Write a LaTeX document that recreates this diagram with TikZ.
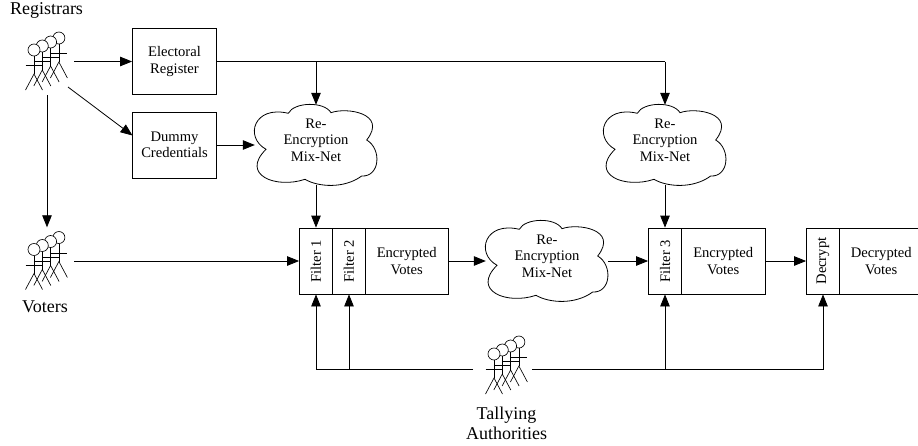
\documentclass[tikz,border=0pt]{standalone}
\usepackage{fontspec}
\setmainfont{Liberation Serif}
\usetikzlibrary{arrows.meta}
\tikzset{
	flow/.style={line width=0.8pt,draw=black,-{Triangle[length=12pt,width=9.5pt,fill=black]}},
	link/.style={line width=0.8pt,draw=black},
	boxpart/.style={draw=black,line width=0.8pt,minimum height=66pt,inner sep=0pt,font=\fontsize{14.6}{16.5}\selectfont,align=center},
	filterpart/.style={boxpart,minimum width=33pt},
	groupname/.style={font=\fontsize{18}{20}\selectfont,align=center,inner sep=0pt},
	anchorbox/.style={minimum width=54pt,minimum height=67pt,inner sep=0pt},
	cloudbox/.style={minimum width=122pt,minimum height=80pt,inner sep=0pt},
	cloudtext/.style={font=\fontsize{14.6}{16.5}\selectfont,align=center,inner sep=0pt}
}
% four stick figures, front one last
\newcommand{\stickgroup}[3]{
	\node[anchorbox] (#1) at (#2,#3) {};
	\foreach \i in {3,2,1,0} {
		\begin{scope}[shift={(#2-13+8.3*\i,#3+4-4*\i)},line width=0.65pt]
			\draw[fill=white] (0,-15.5) circle (6);
			\draw (0,-9.5)--(0,8.5);
			\draw (-8.5,0)--(8.5,0);
			\draw (-8.5,24.5)--(0,8.5)--(8.5,24.5);
		\end{scope}
	}
}
\newcommand{\mixnet}[3]{
	\node[cloudbox] (#1) at (#2,#3) {};
	\node[cloudtext] (#1text) at (#2,#3-5) {Re-\\Encryption\\Mix-Net};
	\draw[link,shift={(#2,#3)}] (-27.7,-31.7)
		.. controls (-22,-43) and (8,-44) .. (15,-32.3)
		.. controls (30,-38) and (72,-32) .. (50.7,-5)
		.. controls (66,4) and (64,32) .. (45.7,31)
		.. controls (28,44) and (2,42) .. (-11,34.3)
		.. controls (-40,44) and (-76,30) .. (-50,4.3)
		.. controls (-72,-8) and (-62,-40) .. (-27.7,-31.7);
}
\begin{document}
\begin{tikzpicture}[x=1pt,y=-1pt]
	\useasboundingbox (0,0) rectangle (918,445);
	% people
	\stickgroup{registrars}{47}{61.5}
	\stickgroup{voters}{47}{261}
	\stickgroup{tallying}{507}{365.5}
	\node[groupname] (regname) at (46.5,10) {Registrars};
	\node[groupname] (votname) at (45,307) {Voters};
	\node[groupname] (talname) at (506.5,423) {Tallying\\Authorities};
	% boxes
	\node[boxpart,minimum width=84pt] (electoral) at (174.5,61.5) {Electoral\\Register};
	\node[boxpart,minimum width=84pt] (dummy) at (174.5,145) {Dummy\\Credentials};
	\node[filterpart] (filtera) at (316,261) {\rotatebox{90}{Filter 1}};
	\node[filterpart] (filterb) at (349,261) {\rotatebox{90}{Filter 2}};
	\node[boxpart,minimum width=82.5pt] (votesa) at (406.75,261) {Encrypted\\Votes};
	\node[filterpart] (filterc) at (665,261) {\rotatebox{90}{Filter 3}};
	\node[boxpart,minimum width=83.5pt] (votesb) at (723.25,261) {Encrypted\\Votes};
	\node[filterpart] (decrypt) at (823,261) {\rotatebox{90}{Decrypt}};
	\node[boxpart,minimum width=83.5pt] (votesc) at (881.25,261) {Decrypted\\Votes};
	% clouds
	\mixnet{mixa}{316}{145}
	\mixnet{mixb}{665}{145}
	\mixnet{mixc}{547}{261}
	% connectors
	\coordinate (regdiag) at (68,87);
	\coordinate (dummyin) at (132.5,135.5);
	\coordinate (topturn) at (665,61.5);
	\coordinate (topfork) at (316,61.5);
	\coordinate (talwest) at (473,369.5);
	\coordinate (taleast) at (532,369.5);
	\coordinate (talleft) at (316,369.5);
	\coordinate (talright) at (823,369.5);
	\coordinate (forkb) at (349,369.5);
	\coordinate (forkc) at (665,369.5);
	\draw[flow] (registrars.east)--(electoral.west);
	\draw[flow] (regdiag)--(dummyin);
	\draw[flow] (registrars.south)--(voters.north);
	\draw[link] (electoral.east)--(topturn);
	\draw[flow] (topfork)--(mixa.north);
	\draw[flow] (topturn)--(mixb.north);
	\draw[flow] (dummy.east)--(mixa.west);
	\draw[flow] (mixa.south)--(filtera.north);
	\draw[flow] (mixb.south)--(filterc.north);
	\draw[flow] (voters.east)--(filtera.west);
	\draw[flow] (votesa.east)--(mixc.west);
	\draw[flow] (mixc.east)--(filterc.west);
	\draw[flow] (votesb.east)--(decrypt.west);
	\draw[link] (talwest)--(talleft);
	\draw[flow] (talleft)--(filtera.south);
	\draw[flow] (forkb)--(filterb.south);
	\draw[link] (taleast)--(talright);
	\draw[flow] (talright)--(decrypt.south);
	\draw[flow] (forkc)--(filterc.south);
\end{tikzpicture}
\end{document}
